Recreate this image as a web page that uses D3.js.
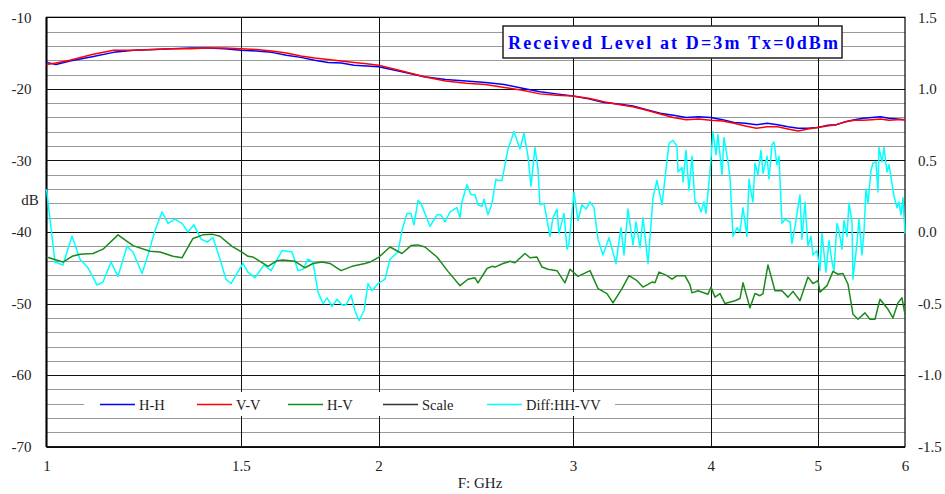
<!DOCTYPE html>
<html>
<head>
<meta charset="utf-8">
<script src="https://cdn.jsdelivr.net/npm/d3@7"></script>
<style>
  html, body { margin: 0; padding: 0; background: #fff; }
  svg { display: block; font-family: "Liberation Serif", "Times New Roman", serif; }
</style>
</head>
<body>
<svg id="chart" width="945" height="494"></svg>
<script>
// Received level vs. frequency (log axis), left axis in dB, right axis for the HH-VV difference
const freqTicks = [1, 1.5, 2, 3, 4, 5, 6];
const dbTicks = [-10, -20, -30, -40, -50, -60, -70];
const diffTicks = [1.5, 1.0, 0.5, 0.0, -0.5, -1.0, -1.5];

const coFreq = [1.00, 1.02, 1.05, 1.10, 1.15, 1.20, 1.25, 1.30, 1.35, 1.40, 1.45, 1.50, 1.55, 1.60, 1.65, 1.70, 1.75, 1.80, 1.85, 1.90, 1.95, 2.00,
  2.1, 2.2, 2.3, 2.4, 2.5, 2.6, 2.7, 2.8, 2.9, 3.0, 3.1, 3.2, 3.3, 3.4, 3.5, 3.6, 3.7, 3.8, 3.9, 4.0,
  4.1, 4.2, 4.3, 4.4, 4.5, 4.6, 4.7, 4.8, 4.9, 5.0, 5.1, 5.2, 5.3, 5.4, 5.5, 5.6, 5.7, 5.8, 5.9, 6.0];
const hh = [-16.3, -16.6, -16.1, -15.5, -14.9, -14.6, -14.5, -14.4, -14.3, -14.3, -14.4, -14.6, -14.7, -14.9, -15.3, -15.6, -16.0, -16.3, -16.4, -16.7, -16.8, -16.9,
  -17.6, -18.3, -18.7, -18.9, -19.1, -19.4, -19.9, -20.4, -20.7, -21.0, -21.4, -21.9, -22.1, -22.4, -22.9, -23.4, -23.7, -24.0, -23.9, -24.0,
  -24.3, -24.7, -24.8, -25.0, -24.8, -25.0, -25.3, -25.5, -25.5, -25.4, -25.1, -25.0, -24.6, -24.3, -24.1, -24.0, -23.9, -24.1, -24.2, -24.3];
const vv = [-16.6, -16.4, -16.0, -15.2, -14.6, -14.6, -14.5, -14.4, -14.4, -14.3, -14.3, -14.4, -14.5, -14.7, -15.0, -15.4, -15.7, -15.9, -16.1, -16.3, -16.5, -16.7,
  -17.5, -18.3, -18.9, -19.2, -19.4, -19.8, -20.2, -20.7, -20.9, -21.0, -21.3, -21.8, -22.2, -22.5, -23.0, -23.5, -24.0, -24.3, -24.2, -24.4,
  -24.5, -24.8, -25.2, -25.5, -25.3, -25.3, -25.6, -25.9, -25.6, -25.4, -25.2, -25.0, -24.6, -24.4, -24.4, -24.3, -24.2, -24.4, -24.3, -24.3];

const hvFreq = [1.000, 1.035, 1.0547, 1.0724, 1.1019, 1.1252, 1.1609, 1.1978, 1.2411, 1.2673, 1.3021, 1.3268, 1.3576, 1.3863, 1.4126, 1.4363,
  1.4728, 1.5038, 1.5228, 1.5388, 1.5614, 1.5877, 1.6178, 1.6382, 1.6797, 1.7152, 1.7441, 1.7771, 1.8071, 1.8491, 1.8920, 1.9441, 1.9645,
  2.0015, 2.0482, 2.0999, 2.1398, 2.1713, 2.2033, 2.2591, 2.3116, 2.3702, 2.4101, 2.4456, 2.4609, 2.5076, 2.5340, 2.5499, 2.5928, 2.6310,
  2.6586, 2.7146, 2.7430, 2.7834, 2.8126, 2.8481, 2.9021, 2.9509, 2.9819, 3.0321, 3.1090, 3.1614, 3.2212, 3.2619, 3.3237, 3.3726, 3.4293,
  3.4728, 3.5386, 3.5608, 3.5907, 3.6511, 3.6894, 3.7281, 3.7908, 3.8305, 3.8466, 3.8950, 3.9772, 4.0022, 4.0358, 4.0781, 4.1208, 4.2078,
  4.2518, 4.2786, 4.3415, 4.3871, 4.4331, 4.4609, 4.5076, 4.5740, 4.6413, 4.7000, 4.7493, 4.8190, 4.9002, 4.9516, 5.0035, 5.0245, 5.0984,
  5.1627, 5.2169, 5.2716, 5.3269, 5.3828, 5.4392, 5.5192, 5.5771, 5.6356, 5.6947, 5.7906, 5.8514, 5.9127, 5.9623, 6.000];
const hv = [-43.5, -44.2, -43.4, -43.1, -43.0, -42.4, -40.4, -41.9, -42.7, -42.8, -43.4, -43.6, -40.9, -40.4, -40.3, -40.6,
  -42.0, -42.8, -43.4, -43.5, -44.1, -44.8, -44.0, -43.9, -44.1, -45.0, -44.4, -44.2, -44.4, -45.4, -44.8, -44.4, -44.2,
  -43.5, -42.1, -43.0, -41.9, -41.8, -42.1, -43.5, -45.5, -47.5, -46.6, -46.4, -47.1, -45.1, -44.8, -44.9, -44.4, -44.1,
  -44.3, -43.0, -43.6, -43.5, -44.9, -45.2, -45.4, -47.1, -45.2, -46.2, -45.4, -47.9, -48.6, -49.9, -47.9, -46.1, -46.8,
  -47.7, -47.0, -47.1, -45.6, -46.1, -46.6, -46.1, -46.1, -47.4, -48.5, -48.2, -48.7, -47.7, -49.1, -48.6, -50.0, -49.6,
  -49.3, -47.1, -50.6, -48.6, -48.9, -48.6, -44.6, -48.2, -48.2, -49.1, -48.3, -49.6, -46.3, -47.2, -46.8, -48.4, -47.5,
  -45.5, -45.9, -45.8, -47.3, -51.5, -52.2, -51.3, -52.2, -52.2, -49.4, -50.8, -52.0, -49.9, -49.2, -51.5];

const diffFreq = [1.000, 1.0179, 1.0350, 1.0547, 1.0724, 1.0905, 1.1111, 1.1252, 1.1441, 1.1609, 1.1829, 1.1978, 1.2206, 1.2359, 1.2541,
  1.2726, 1.2886, 1.3076, 1.3268, 1.3436, 1.3605, 1.3805, 1.3979, 1.4155, 1.4363, 1.4544, 1.4697, 1.4882, 1.5070, 1.5228, 1.5452, 1.5745,
  1.5977, 1.6348, 1.6693, 1.6903, 1.7081, 1.7260, 1.7441, 1.7624, 1.7809, 1.7958, 1.8147, 1.8337, 1.8530, 1.8685, 1.8881, 1.9039, 1.9199,
  1.9400, 1.9563, 1.9727, 1.9975, 2.0269, 2.0482, 2.0826, 2.0999, 2.1220, 2.1398, 2.1532, 2.1713, 2.1849, 2.2263, 2.2591, 2.2780, 2.2971,
  2.3212, 2.3554, 2.3702, 2.3801, 2.4051, 2.4252, 2.4456, 2.4609, 2.4816, 2.4920, 2.5129, 2.5340, 2.5552, 2.5659, 2.5874, 2.6200, 2.6530,
  2.6864, 2.7089, 2.7316, 2.7488, 2.7718, 2.7892, 2.8009, 2.8244, 2.8600, 2.8780, 2.9021, 2.9142, 2.9448, 2.9633, 2.9757, 3.0069, 3.0321,
  3.0575, 3.0832, 3.1090, 3.1351, 3.1614, 3.1945, 3.2348, 3.2824, 3.3168, 3.3377, 3.3656, 3.4010, 3.4223, 3.4511, 3.4728, 3.5092, 3.5460,
  3.5757, 3.6132, 3.6664, 3.6971, 3.7281, 3.7359, 3.7672, 3.7751, 3.7987, 3.8225, 3.8466, 3.8707, 3.8950, 3.9195, 3.9441, 3.9606, 3.9938,
  4.0189, 4.0441, 4.0610, 4.0951, 4.1122, 4.1467, 4.1640, 4.1902, 4.2253, 4.2518, 4.2786, 4.3144, 4.3325, 4.3506, 4.3688, 4.3871, 4.4146,
  4.4423, 4.4609, 4.4983, 4.5171, 4.5455, 4.5645, 4.5931, 4.6124, 4.6413, 4.6705, 4.7195, 4.7392, 4.7690, 4.8190, 4.8392, 4.8696, 4.9002,
  4.9310, 4.9516, 4.9931, 5.0245, 5.0455, 5.0878, 5.1198, 5.1519, 5.1735, 5.2060, 5.2278, 5.2606, 5.2826, 5.3158, 5.3380, 5.3716, 5.3828,
  5.4278, 5.4505, 5.4847, 5.5077, 5.5307, 5.5538, 5.5887, 5.6121, 5.6473, 5.6709, 5.6828, 5.7185, 5.7424, 5.7785, 5.8027, 5.8391, 5.8636,
  5.9004, 5.9250, 5.9498, 5.9747, 6.000];
const diff = [0.30, -0.21, -0.23, -0.03, -0.19, -0.25, -0.37, -0.35, -0.21, -0.31, -0.10, -0.14, -0.29, -0.16, 0.01,
  0.14, 0.06, 0.09, 0.06, 0.00, 0.05, -0.05, -0.07, -0.04, -0.19, -0.33, -0.36, -0.29, -0.22, -0.28, -0.32, -0.23,
  -0.27, -0.13, -0.14, -0.27, -0.26, -0.19, -0.21, -0.42, -0.50, -0.46, -0.52, -0.47, -0.51, -0.51, -0.44, -0.55, -0.62,
  -0.55, -0.36, -0.41, -0.36, -0.33, -0.19, -0.14, 0.01, 0.13, 0.13, 0.05, 0.22, 0.20, 0.04, 0.12, 0.12, 0.07,
  0.14, 0.17, 0.10, 0.21, 0.33, 0.26, 0.26, 0.19, 0.18, 0.23, 0.12, 0.20, 0.37, 0.36, 0.36, 0.58, 0.70,
  0.58, 0.69, 0.53, 0.32, 0.59, 0.44, 0.19, 0.20, -0.03, 0.10, 0.16, -0.01, 0.13, -0.12, -0.08, 0.28, 0.08,
  0.19, 0.16, 0.21, 0.17, -0.05, -0.16, -0.04, -0.22, 0.03, -0.16, 0.16, -0.09, 0.07, -0.11, 0.10, -0.22, 0.24,
  0.36, 0.19, 0.62, 0.64, 0.60, 0.42, 0.45, 0.35, 0.57, 0.29, 0.53, 0.21, 0.20, 0.14, 0.21, 0.13, 0.42,
  0.70, 0.54, 0.68, 0.40, 0.66, 0.49, 0.38, -0.03, 0.03, 0.00, 0.17, -0.03, 0.37, 0.28, 0.21, 0.48, 0.40,
  0.57, 0.41, 0.53, 0.37, 0.61, 0.63, 0.47, 0.53, 0.06, 0.09, 0.07, -0.08, 0.04, 0.26, -0.05, 0.21, -0.10,
  -0.03, -0.16, -0.13, -0.27, -0.01, -0.28, -0.06, -0.21, -0.27, 0.06, 0.01, -0.12, 0.08, -0.03, 0.20, 0.07, -0.33,
  -0.08, 0.09, -0.16, 0.00, 0.30, 0.20, 0.43, 0.48, 0.49, 0.28, 0.59, 0.49, 0.59, 0.42, 0.47, 0.34, 0.25,
  0.17, 0.21, 0.12, 0.24, -0.01];

const legendNames = ["H-H", "V-V", "H-V", "Scale", "Diff:HH-VV"];
const legendColors = ["#0000ff", "#ff0000", "#1a8a1a", "#333333", "#00ffff"];
const titleText = "Received Level at D=3m Tx=0dBm";

const svg = d3.select("#chart");
const L = 46.5, R = 905, T = 17.3, B = 446.7;

const x = d3.scaleLog().domain([1, 6]).range([L, R]);
const yL = d3.scaleLinear().domain([-70, -10]).range([B, T]);
const yR = d3.scaleLinear().domain([-1.5, 1.5]).range([B, T]);

// grid: light lines every 2 dB, dark lines every 10 dB
const grid = svg.append("g");
const minor = d3.range(-68, -10, 2).filter(v => v % 10 !== 0);
grid.selectAll("line.minor").data(minor).join("line")
  .attr("x1", L).attr("x2", R)
  .attr("y1", d => Math.round(yL(d)) + 0.5).attr("y2", d => Math.round(yL(d)) + 0.5)
  .attr("stroke", "#9a9a9a").attr("stroke-width", 1);
grid.selectAll("line.major").data(dbTicks).join("line")
  .attr("x1", L).attr("x2", R)
  .attr("y1", d => Math.round(yL(d)) + 0.5).attr("y2", d => Math.round(yL(d)) + 0.5)
  .attr("stroke", "#111").attr("stroke-width", 1);
grid.selectAll("line.vert").data(freqTicks.slice(1, -1)).join("line")
  .attr("x1", d => Math.round(x(d)) + 0.5).attr("x2", d => Math.round(x(d)) + 0.5)
  .attr("y1", T).attr("y2", B)
  .attr("stroke", "#111").attr("stroke-width", 1);

// plot frame
svg.append("rect").attr("x", L).attr("y", T).attr("width", R - L).attr("height", B - T)
  .attr("fill", "none").attr("stroke", "#000").attr("stroke-width", 1.2);
svg.append("line").attr("x1", L).attr("x2", L).attr("y1", T).attr("y2", B)
  .attr("stroke", "#000").attr("stroke-width", 2);

// legend strip (drawn under the series)
const lg = svg.append("g");
lg.append("rect").attr("x", 84).attr("y", 392).attr("width", 531).attr("height", 24).attr("fill", "#fff");
const legendX = [100, 197, 288, 383, 487];
legendNames.forEach((n, i) => {
  lg.append("line").attr("x1", legendX[i]).attr("x2", legendX[i] + 35)
    .attr("y1", 404.5).attr("y2", 404.5).attr("stroke", legendColors[i]).attr("stroke-width", 1.5);
  lg.append("text").attr("x", legendX[i] + 39).attr("y", 409.5)
    .attr("font-size", 14.5).attr("fill", "#222").text(n);
});

// series
const lineL = d3.line().x(d => x(d[0])).y(d => yL(d[1]));
const lineR = d3.line().x(d => x(d[0])).y(d => yR(d[1]));
const series = [
  { pts: d3.zip(diffFreq, diff), gen: lineR, color: legendColors[4] },
  { pts: d3.zip(hvFreq, hv), gen: lineL, color: legendColors[2] },
  { pts: d3.zip(coFreq, hh), gen: lineL, color: legendColors[0] },
  { pts: d3.zip(coFreq, vv), gen: lineL, color: legendColors[1] }
];
svg.append("g").selectAll("path").data(series).join("path")
  .attr("d", s => s.gen(s.pts))
  .attr("fill", "none").attr("stroke", s => s.color)
  .attr("stroke-width", 1.5).attr("stroke-linejoin", "round");

// axes
const axL = svg.append("g").attr("transform", `translate(${L},0)`)
  .call(d3.axisLeft(yL).tickValues(dbTicks).tickSize(0).tickPadding(15).tickFormat(d3.format("d")));
const axR = svg.append("g").attr("transform", `translate(${R},0)`)
  .call(d3.axisRight(yR).tickValues(diffTicks).tickSize(0).tickPadding(13).tickFormat(d3.format(".1f")));
const axB = svg.append("g").attr("transform", `translate(0,${B})`)
  .call(d3.axisBottom(x).tickValues(freqTicks).tickSize(0).tickPadding(14).tickFormat(d3.format("")));
[axL, axR, axB].forEach(a => {
  a.select(".domain").remove();
  a.selectAll("text").attr("font-family", "Liberation Serif, Times New Roman, serif")
    .attr("font-size", 15).attr("fill", "#222");
});
axR.selectAll("text").text(d => d3.format(".1f")(d).replace("−", "-"));
axL.selectAll("text").text(d => String(d));

// axis titles
svg.append("text").attr("x", 30).attr("y", 205).attr("text-anchor", "middle")
  .attr("font-size", 15).attr("fill", "#222").text("dB");
svg.append("text").attr("x", 480).attr("y", 488).attr("text-anchor", "middle")
  .attr("font-size", 15).attr("fill", "#222").text("F: GHz");

// title box
svg.append("rect").attr("x", 503).attr("y", 26).attr("width", 339).attr("height", 32)
  .attr("fill", "#fff").attr("stroke", "#222").attr("stroke-width", 1.5);
svg.append("text").attr("x", 508).attr("y", 49).attr("font-size", 18).attr("font-weight", "bold")
  .attr("fill", "#0000ff").attr("textLength", 330).attr("lengthAdjust", "spacing").text(titleText);
</script>
</body>
</html>
